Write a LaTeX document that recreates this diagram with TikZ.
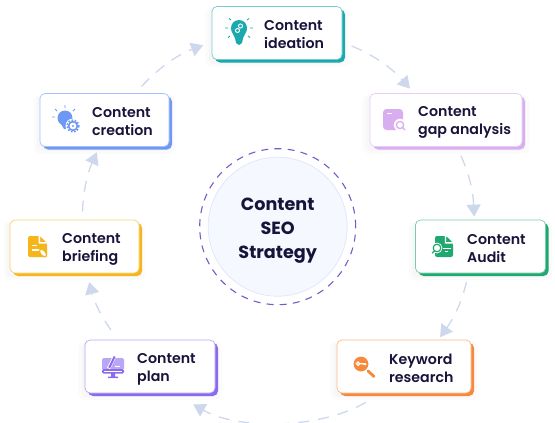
\documentclass[tikz,border=0pt]{standalone}
\usepackage{fontspec}
\setmainfont{Poppins}
\newfontfamily\semifont{Poppins SemiBold}
\usetikzlibrary{arrows.meta,shadows,calc}
\definecolor{teal1}{HTML}{19A9AE}
\definecolor{lilac1}{HTML}{D9AEF0}
\definecolor{green1}{HTML}{1FA971}
\definecolor{orange1}{HTML}{F68A3A}
\definecolor{violet1}{HTML}{8A6BEE}
\definecolor{yellow1}{HTML}{F5B61B}
\definecolor{blue1}{HTML}{6F98F6}
\definecolor{ink}{HTML}{17133A}
\definecolor{flowc}{HTML}{CDD8EC}
\tikzset{
	card/.style={rectangle,rounded corners=5pt,inner sep=0pt,minimum height=53pt,draw=#1!60,line width=.7pt,fill=white,
		general shadow={fill=black,opacity=.015,shadow yshift=-4pt,shadow scale=1.1},
		general shadow={fill=black,opacity=.015,shadow yshift=-3pt,shadow scale=1.05},
		general shadow={fill=#1,shadow xshift=3pt,shadow yshift=-3pt}},
	cardtext/.style={anchor=west,inner sep=0pt,align=left,text=ink,font=\semifont\fontsize{14.2}{18}\selectfont},
	flow/.style={color=flowc,line width=1.3pt,dash pattern=on 11pt off 9pt,-{Triangle[length=12pt,width=14pt,sep=0pt]}},
}
\begin{document}
\begin{tikzpicture}[x=1pt,y=-1pt]
	\useasboundingbox (0,0) rectangle (555,423);
	% centre
	\node [circle,draw=violet1!85!black,line width=1.1pt,dash pattern=on 7pt off 6.2pt,minimum size=156pt,inner sep=0pt] (ring) at (277.7,226.7) {};
	\node [circle,draw=blue1!22,line width=.8pt,fill=blue1!7,minimum size=139pt,inner sep=0pt] (hub) at (277.7,226.7) {};
	\node [inner sep=0pt,align=center,text=ink,font=\bfseries\fontsize{17.6}{24}\selectfont] (hubtext) at (277.7,230.5) {Content\\SEO\\Strategy};
	% cards
	\node [card=teal1,minimum width=130pt] (ideation) at (277,33) {};
	\node [card=lilac1,minimum width=152pt] (gap) at (446,120) {};
	\node [card=green1,minimum width=130pt] (audit) at (480.5,246.5) {};
	\node [card=orange1,minimum width=134pt] (keyword) at (404,366.5) {};
	\node [card=violet1,minimum width=130pt] (plan) at (150,366.5) {};
	\node [card=yellow1,minimum width=129pt] (briefing) at (74.5,246.5) {};
	\node [card=blue1,minimum width=129pt] (creation) at (104.5,120) {};
	\node [cardtext] (ideationtext) at (264,35) {Content\\ideation};
	\node [cardtext] (gaptext) at (418,122.5) {Content\\gap analysis};
	\node [cardtext] (audittext) at (467,249) {Content\\Audit};
	\node [cardtext] (keywordtext) at (389,368.5) {Keyword\\research};
	\node [cardtext] (plantext) at (137,369) {Content\\plan};
	\node [cardtext] (briefingtext) at (62,249) {Content\\briefing};
	\node [cardtext] (creationtext) at (92,122) {Content\\creation};
	% connectors
	\draw [flow,shorten <=10pt,shorten >=6pt] (ideation.-8) to[bend left=13] (gap.140);
	\draw [flow,shorten <=10pt,shorten >=3pt] (gap.-68) to[bend left=11] (audit.103);
	\draw [flow,shorten <=9pt,shorten >=3pt] (audit.-114) to[bend left=11] (keyword.38);
	\draw [flow,shorten <=18pt,shorten >=22pt] (keyword.-130) to[bend left=30,looseness=.9] (plan.-48);
	\draw [flow,shorten <=12pt,shorten >=9pt] (plan.140) to[bend left=11] (briefing.-65);
	\draw [flow,shorten <=8pt,shorten >=6pt] (briefing.74) to[bend left=11] (creation.-101);
	\draw [flow,shorten <=9pt,shorten >=9pt] (creation.41) to[bend left=13.5] (ideation.188);
	% ideation icon
	\begin{scope}[shift={(239,28)}]
		\fill [teal1] (-8,0) arc (180:360:8) .. controls (8,5) and (5,6) .. (4,10) -- (3,15) -- (0,17) -- (-3,15) -- (-4,10) .. controls (-5,6) and (-8,5) .. (-8,0) -- cycle;
		\draw [white,line width=1pt] (1.5,-2) circle (2) (-1.5,2.5) circle (2);
		\draw [teal1,line width=.9pt] (-11,0) -- ++(-3,0) (11,0) -- ++(3,0) (-8,-8) -- ++(-2,-1.5) (8,-8) -- ++(2,-1.5) (-9,8) -- ++(-2,1.5) (9,8) -- ++(2,1.5);
	\end{scope}
	% gap icon
	\begin{scope}[shift={(383,109)}]
		\fill [lilac1,rounded corners=3.5pt] (0,0) rectangle (20,21);
		\fill [white] (4,4) rectangle ++(5,1.4);
		\fill [white] (17,16) circle (6.2);
		\draw [lilac1,line width=1.3pt] (17,16) circle (3.6);
		\draw [lilac1,line width=1.4pt] (19.6,18.6) -- ++(2.5,2.5);
	\end{scope}
	% audit icon
	\begin{scope}[shift={(435,236)}]
		\fill [green1,rounded corners=2pt] (0,0) -- (11,0) -- (18,7) -- (18,21) -- (0,21) -- cycle;
		\fill [white] (11,0) -- (11,6) -- (17,6) -- (17,7.5) -- (9.8,7.5) -- (9.8,0) -- cycle;
		\draw [white,line width=1pt] (8,12) -- ++(7.5,0) (10,15) -- ++(3,0);
		\fill [white] (2,12) circle (5.4);
		\draw [green1,line width=1.2pt] (2,12) circle (3.8);
		\draw [green1,line width=1.3pt] (-.6,15) -- ++(-2.4,2.2);
	\end{scope}
	% keyword icon
	\begin{scope}[shift={(361,364)}]
		\fill [orange1] (0,0) circle (7.4);
		\draw [white,line width=1.2pt] (-3,-.3) circle (1.7) (-1.3,-.3) -- ++(6,0) (3,-.3) -- ++(0,1.5) (4.7,-.3) -- ++(0,1.5);
		\draw [orange1,line width=2.8pt,line cap=round] (7,7) -- ++(6,5.5);
	\end{scope}
	% plan icon
	\begin{scope}[shift={(102,358)}]
		\fill [violet1!60,rounded corners=1.5pt] (0,0) rectangle (22,12);
		\fill [violet1,rounded corners=1.5pt] (0,11) rectangle (22,15.5);
		\fill [violet1] (9,15) rectangle (13,19) (6,18.6) rectangle (16,20);
		\draw [white,line width=3.4pt] (6.6,10.5) -- (12.5,-1.5);
		\draw [violet1,line width=2pt] (7.2,9.8) -- (12.7,-1.5);
		\draw [white,line width=1.1pt] (13,8.5) -- ++(5,0);
		\draw [white,line width=.7pt] (2,13.2) -- ++(18,0);
	\end{scope}
	% briefing icon
	\begin{scope}[shift={(28,236)}]
		\fill [yellow1,rounded corners=2pt] (0,0) -- (12,0) -- (19,7) -- (19,21) -- (0,21) -- cycle;
		\fill [white] (12,0) -- (12,6) -- (18,6) -- (18,7.5) -- (10.7,7.5) -- (10.7,0) -- cycle;
		\draw [white,line width=1.1pt] (4,9.5) -- ++(5,0) (4,14) -- ++(8,0);
		\draw [yellow1,line width=1.2pt,fill=white,rotate around={-50:(15,17)}] (15,17) ellipse (4.6 and 2.6);
	\end{scope}
	% creation icon
	\begin{scope}[shift={(65,118)}]
		\fill [blue1] (0,0) circle (7.5);
		\fill [blue1] (-4.5,5) -- (3,8) -- (1.5,11) -- (-1,11) -- cycle;
		\draw [blue1,line width=.9pt] (0,-10) -- ++(0,-3) (-8,-7) -- ++(-2,-2) (8,-7) -- ++(2,-2) (-10,-1) -- ++(-3,0);
		\fill [white] (8,8) circle (7.5);
		\draw [blue1,line width=1.6pt,dash pattern=on 1.6pt off 1.6pt] (8,8) circle (5.8);
		\draw [blue1,line width=1.6pt] (8,8) circle (4.4);
		\fill [white] (8,8) circle (2.4);
		\fill [blue1] (8,8) circle (1.2);
	\end{scope}
\end{tikzpicture}
\end{document}
